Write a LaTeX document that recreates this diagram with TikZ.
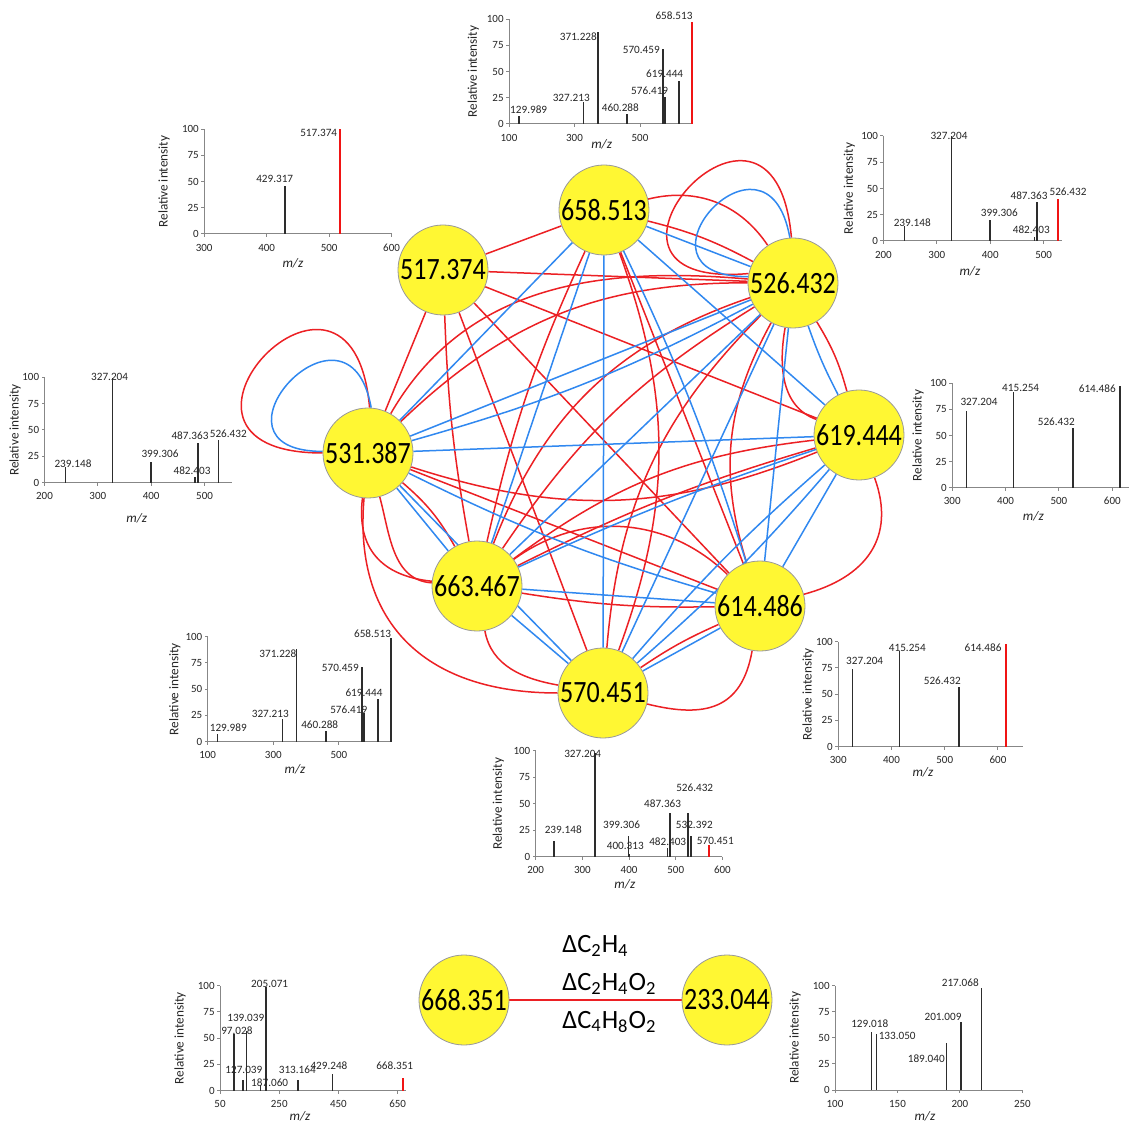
\documentclass[tikz,border=0pt]{standalone}
\usepackage{fontspec}
\usepackage{graphicx}
\setmainfont{Carlito}
\usetikzlibrary{backgrounds}

\definecolor{edgered}{RGB}{236,32,36}
\definecolor{edgeblue}{RGB}{48,136,240}
\definecolor{nodeyellow}{RGB}{255,247,51}
\definecolor{axisgray}{RGB}{135,135,135}
\definecolor{peakgray}{RGB}{45,45,45}
\definecolor{peakred}{RGB}{240,20,20}

% m/z offset of the current spectrum (set inside each scope)
\newcommand\xo{0}
% y axis 0--100 with ticks and labels
\newcommand\yax{%
  \draw[axline] (0,0) -- (0,100);
  \foreach \v in {0,25,50,75,100}{%
    \draw[axline] (0,\v) -- ++(-1.5pt,0);
    \node[ticklab,anchor=east] at ([xshift=-2.5pt]0,\v) {\v};}}
% x axis from #1 to #2 with labelled ticks #3
\newcommand\xax[3]{%
  \draw[axline] ({#1-\xo},0) -- ({#2-\xo},0);
  \foreach \v in {#3}{%
    \draw[axline] ({\v-\xo},0) -- ++(0,-1.5pt);
    \node[ticklab] at ([yshift=-6.8pt]{\v-\xo},0) {\v};}}
% axis titles: #1 centre of m/z, #2 drop of m/z, #3 distance of y title
\newcommand\axtitles[3]{%
  \node[axtitle,rotate=90] at ([xshift=-#3]0,50) {Relative intensity};
  \node[axtitle,font=\fontsize{6.6}{7}\selectfont\itshape] at ([yshift=-#2]{#1-\xo},0) {m/z};}
\newcommand\pk[2]{\draw[peak] ({#1-\xo},0) -- ({#1-\xo},#2);}
\newcommand\pkred[2]{\draw[peakr] ({#1-\xo},0) -- ({#1-\xo},#2);}
\newcommand\lab[3]{\node[peaklab] at ({#1-\xo},#2) {#3};}
\newcommand\sq[1]{\scalebox{0.84}[1]{#1}}

\begin{document}
\begin{tikzpicture}[x=0.5pt,y=-0.5pt,
  axline/.style={draw=axisgray,line width=0.5pt},
  peak/.style={draw=peakgray,line width=0.7pt},
  peakr/.style={draw=peakred,line width=1pt},
  ticklab/.style={font=\fontsize{5.5}{6}\selectfont,inner sep=0pt,text=black!85},
  peaklab/.style={font=\fontsize{5.6}{6}\selectfont,inner sep=0pt,text=black!85},
  axtitle/.style={font=\fontsize{6.6}{7}\selectfont,inner sep=0pt,text=black!85},
  mz/.style={circle,draw=black!40,line width=0.4pt,fill=nodeyellow,minimum size=45pt,
    inner sep=0pt,font=\fontsize{15.5}{16}\selectfont},
  re/.style={draw=edgered,line width=0.75pt},
  be/.style={draw=edgeblue,line width=0.75pt},
  delta/.style={font=\fontsize{13.2}{14}\selectfont,inner sep=0pt,anchor=west}]
\useasboundingbox (0,0) rectangle (1129,1122);

% ---------------- network nodes ----------------
\node[mz] (A) at (604,210) {\sq{658.513}};
\node[mz] (B) at (443,270) {\sq{517.374}};
\node[mz] (C) at (793,283) {\sq{526.432}};
\node[mz] (D) at (368,453) {\sq{531.387}};
\node[mz] (E) at (859,435) {\sq{619.444}};
\node[mz] (F) at (477,586) {\sq{663.467}};
\node[mz] (G) at (760,606) {\sq{614.486}};
\node[mz] (H) at (603,693) {\sq{570.451}};

\node[mz] (P) at (464,1000) {\sq{668.351}};
\node[mz] (Q) at (727,1000) {\sq{233.044}};

\begin{scope}[on background layer]
\fill[white] (0,0) rectangle (1129,1122);
% red connections
\draw[re] (A) -- (B);
\draw[re] (A) to[bend left=35] (C);
\draw[re] (A) to[bend left=7] (C);
\draw[re] (A) to[bend right=6] (F);
\draw[re] (A) to[bend left=20] (H);
\draw[re] (A) -- (G);
\draw[re] (B) -- (C);
\draw[re] (B) -- (D);
\draw[re] (B) -- (E);
\draw[re] (B) to[bend right=4] (F);
\draw[re] (B) -- (H);
\draw[re] (B) -- (G);
\draw[re] (C.92) to[out=95,in=185,distance=100pt] (C.168);
\draw[re] (D) to[out=60,in=175] (C);
\draw[re] (D) to[bend left=22] (C);
\draw[re] (C) to[out=-100,in=160] (E);
\draw[re] (C) to[bend left=8] (E);
\draw[re] (C) to[bend right=25] (F);
\draw[re] (C) to[bend right=12] (F);
\draw[re] (C) to[bend right=20] (H);
\draw[re] (C) to[bend right=23] (G);
\draw[re] (D.88) to[out=95,in=180,distance=100pt] (D.180);
\draw[re] (D) to[bend right=20] (E);
\draw[re] (D) -- (G);
\draw[re] (D) to[bend left=10] (F);
\draw[re] (D) to[out=-97,in=174,looseness=1.2] (F);
\draw[re] (D) to[out=-75,in=176] (F);
\draw[re] (D) to[out=-95,in=180,looseness=1.2] (H);
\draw[re] (E) to[bend right=15] (F);
\draw[re] (E) to[bend right=5] (F);
\draw[re] (E) to[out=-70,in=15,looseness=1.2] (G);
\draw[re] (F) to[bend left=40] (G);
\draw[re] (F) to[bend right=5] (G);
\draw[re] (F) to[out=-80,in=170] (H);
\draw[re] (G) to[out=-100,in=-14,looseness=1.3] (H);
\draw[re] (G) to[bend right=5] (H);
% blue connections
\draw[be] (A) -- (C);
\draw[be] (A) -- (D);
\draw[be] (A) -- (E);
\draw[be] (A) -- (F);
\draw[be] (A) -- (H);
\draw[be] (A) to[bend left=4] (G);
\draw[be] (C.94) to[out=100,in=180,distance=65pt] (C.172);
\draw[be] (D) -- (C);
\draw[be] (D) to[bend right=6] (C);
\draw[be] (C) to[bend right=4] (E);
\draw[be] (C) -- (F);
\draw[be] (C) -- (H);
\draw[be] (C) -- (G);
\draw[be] (D.86) to[out=100,in=180,distance=65pt] (D.178);
\draw[be] (D) -- (E);
\draw[be] (D) to[bend right=5] (G);
\draw[be] (D) -- (H);
\draw[be] (D) -- (F);
\draw[be] (E) to[bend right=3] (F);
\draw[be] (E) -- (G);
\draw[be] (E) to[bend left=4] (H);
\draw[be] (E) to[bend right=4] (H);
\draw[be] (F) -- (G);
\draw[be] (F) -- (H);
\draw[be] (G) -- (H);
% second network
\draw[re] (P) -- (Q);
\end{scope}

\node[delta] (d1) at (562,946) {ΔC\textsubscript{2}H\textsubscript{4}};
\node[delta] (d2) at (562,984) {ΔC\textsubscript{2}H\textsubscript{4}O\textsubscript{2}};
\node[delta] (d3) at (562,1022) {ΔC\textsubscript{4}H\textsubscript{8}O\textsubscript{2}};

% ---------------- spectra ----------------
% 658.513
\begin{scope}[shift={(509,124)},x=0.16375pt,y=0.5235pt]
\def\xo{100}
\xax{100}{662}{100,300,500}\yax\axtitles{383}{10pt}{17.8pt}
\pk{129.989}{8}\pk{327.213}{21}\pk{371.228}{87.6}\pk{460.288}{10}\pk{570.459}{71.6}\pk{576.419}{26}\pk{619.444}{41}\pkred{658.513}{97.8}
\lab{160}{14}{129.989}\lab{290}{25}{327.213}\lab{311.7}{83.4}{371.228}\lab{440}{16}{460.288}
\lab{504}{70.7}{570.459}\lab{529.5}{31.8}{576.419}\lab{575.3}{47.8}{619.444}\lab{603.8}{103.4}{658.513}
\end{scope}

% 517.374
\begin{scope}[shift={(204.2,234)},x=0.3123pt,y=0.5235pt]
\def\xo{300}
\xax{300}{600}{300,400,500,600}\yax\axtitles{442}{14.5pt}{20pt}
\pk{429.317}{46}\pkred{517.374}{100}
\lab{412.9}{53}{429.317}\lab{483.3}{97}{517.374}
\end{scope}

% 526.432
\begin{scope}[shift={(883.4,241)},x=0.267pt,y=0.525pt]
\def\xo{200}
\xax{200}{535}{200,300,400,500}\yax\axtitles{362}{15pt}{17pt}
\pk{239.148}{14.3}\pk{327.204}{100}\pk{399.306}{20}\pk{482.403}{4}\pk{487.363}{37.5}\pkred{526.432}{40}
\lab{322.8}{100}{327.204}\lab{254}{17.4}{239.148}\lab{417}{27}{399.306}\lab{477}{10.5}{482.403}
\lab{472.7}{43.5}{487.363}\lab{545.7}{46.7}{526.432}
\end{scope}

% 531.387
\begin{scope}[shift={(44.5,482.7)},x=0.26675pt,y=0.527pt]
\def\xo{200}
\xax{200}{551}{200,300,400,500}\yax\axtitles{373}{18pt}{14.7pt}
\pk{239.148}{15}\pk{327.204}{99}\pk{399.306}{20}\pk{482.403}{5}\pk{487.363}{38}\pk{526.432}{40.5}
\lab{322}{100.6}{327.204}\lab{253.4}{18.4}{239.148}\lab{416.5}{27.9}{399.306}\lab{476.5}{11.4}{482.403}
\lab{472.7}{44.3}{487.363}\lab{544.5}{46.2}{526.432}
\end{scope}

% 619.444
\begin{scope}[shift={(952.2,487.7)},x=0.26685pt,y=0.522pt]
\def\xo{300}
\xax{300}{631}{300,400,500,600}\yax\axtitles{452}{14.5pt}{17pt}
\pk{327.204}{73.8}\pk{415.254}{91.4}\pk{526.432}{56.9}\pk{614.486}{97.8}
\lab{350.2}{81.8}{327.204}\lab{428.3}{95.2}{415.254}\lab{495}{63.2}{526.432}\lab{571.9}{95.2}{614.486}
\end{scope}

% 663.467
\begin{scope}[shift={(207.7,741.7)},x=0.164pt,y=0.525pt]
\def\xo{100}
\xax{100}{662}{100,300,500}\yax\axtitles{366}{14pt}{16.4pt}
\pk{129.989}{7.3}\pk{327.213}{21.3}\pk{371.228}{88}\pk{460.288}{10}\pk{570.459}{71.4}\pk{576.419}{27}\pk{619.444}{40.6}\pk{658.513}{99}
\lab{162.8}{13.3}{129.989}\lab{290.9}{26}{327.213}\lab{314}{83.5}{371.228}\lab{441.5}{16}{460.288}
\lab{504.5}{70.5}{570.459}\lab{530}{30}{576.419}\lab{576.5}{47}{619.444}\lab{602.5}{102.6}{658.513}
\end{scope}

% 614.486
\begin{scope}[shift={(838.2,746.7)},x=0.2663pt,y=0.525pt]
\def\xo{300}
\xax{300}{647}{300,400,500,600}\yax\axtitles{459}{13pt}{15pt}
\pk{327.204}{74}\pk{415.254}{91.4}\pk{526.432}{56.5}\pkred{614.486}{97.8}
\lab{349.7}{81.9}{327.204}\lab{429.8}{94.3}{415.254}\lab{495.4}{62.9}{526.432}\lab{571.9}{94.3}{614.486}
\end{scope}

% 570.451
\begin{scope}[shift={(535.7,856.7)},x=0.23335pt,y=0.53pt]
\def\xo{200}
\xax{200}{600}{200,300,400,500,600}\yax\axtitles{391}{13.8pt}{18.7pt}
\pk{239.148}{15}\pk{327.204}{98}\pk{399.306}{20}\pk{400.313}{3}\pk{482.403}{8}\pk{487.363}{41}\pk{526.432}{41}\pk{532.392}{20}\pkred{570.451}{11}
\lab{300.7}{97}{327.204}\lab{259}{25.8}{239.148}\lab{384}{29.9}{399.306}\lab{392}{10.4}{400.313}
\lab{482.8}{14.2}{482.403}\lab{472}{50.4}{487.363}\lab{540.7}{65.5}{526.432}\lab{540}{29.9}{532.392}\lab{584.9}{15}{570.451}
\end{scope}

% 668.351
\begin{scope}[shift={(220,1090.7)},x=0.14805pt,y=0.525pt]
\def\xo{50}
\xax{50}{678}{50,250,450,650}\yax\axtitles{320}{13pt}{20pt}
\pk{97.028}{54}\pk{127.039}{10}\pk{139.039}{56.8}\pk{187.060}{5.4}\pk{205.071}{98.4}\pk{313.164}{10}\pk{429.248}{15.9}\pkred{668.351}{12.4}
\lab{107}{57}{97.028}\lab{137}{69}{139.039}\lab{217.8}{101.6}{205.071}\lab{130.5}{19.7}{127.039}
\lab{217.8}{7.6}{187.060}\lab{311}{19.7}{313.164}\lab{418}{23.5}{429.248}\lab{640}{23.5}{668.351}
\end{scope}

% 233.044
\begin{scope}[shift={(835,1090)},x=0.6245pt,y=0.5215pt]
\def\xo{100}
\xax{100}{250}{100,150,200,250}\yax\axtitles{172}{13.3pt}{20pt}
\pk{129.018}{55.3}\pk{133.050}{53.4}\pk{189.040}{44.7}\pk{201.009}{64.9}\pk{217.068}{98}
\lab{127.8}{64}{129.018}\lab{149.8}{51.8}{133.050}\lab{173.1}{30.4}{189.040}\lab{186.5}{70.3}{201.009}\lab{200.3}{103}{217.068}
\end{scope}
\end{tikzpicture}
\end{document}
